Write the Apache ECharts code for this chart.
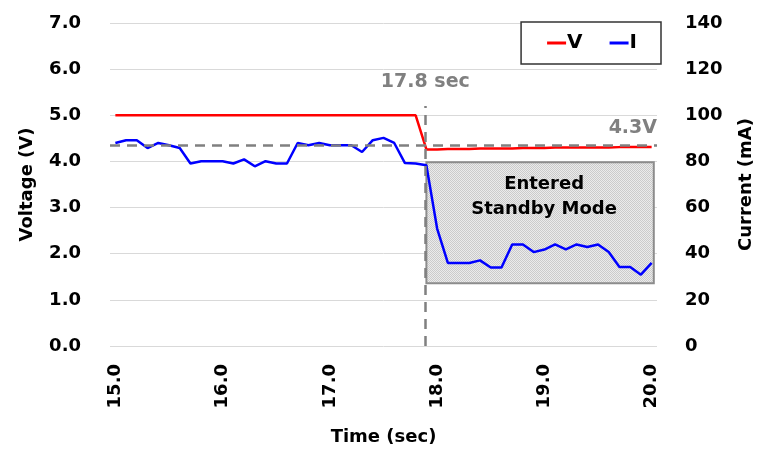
<!DOCTYPE html>
<html>
<head>
<meta charset="utf-8">
<script src="https://cdn.jsdelivr.net/npm/echarts@6/dist/echarts.min.js"></script>
<style>html,body{margin:0;padding:0;background:#fff}#c{width:760px;height:450px}</style>
</head>
<body>
<div id="c"></div>
<script>
// ---- data ----
const times = ['15.0','15.1','15.2','15.3','15.4','15.5','15.6','15.7','15.8','15.9',
  '16.0','16.1','16.2','16.3','16.4','16.5','16.6','16.7','16.8','16.9',
  '17.0','17.1','17.2','17.3','17.4','17.5','17.6','17.7','17.8','17.9',
  '18.0','18.1','18.2','18.3','18.4','18.5','18.6','18.7','18.8','18.9',
  '19.0','19.1','19.2','19.3','19.4','19.5','19.6','19.7','19.8','19.9','20.0'];
const voltage = [5.0,5.0,5.0,5.0,5.0,5.0,5.0,5.0,5.0,5.0,
  5.0,5.0,5.0,5.0,5.0,5.0,5.0,5.0,5.0,5.0,
  5.0,5.0,5.0,5.0,5.0,5.0,5.0,5.0,5.0,4.26,
  4.26,4.27,4.27,4.27,4.28,4.28,4.28,4.28,4.29,4.29,
  4.29,4.30,4.30,4.30,4.30,4.30,4.30,4.31,4.31,4.31,4.31];
const current = [88.0,89.2,89.2,85.8,88.0,87.0,85.8,79.1,80.1,80.1,
  80.1,79.1,80.9,77.9,80.1,79.1,79.1,88.0,87.0,88.0,
  87.0,87.0,87.0,84.1,89.2,90.2,88.0,79.3,79.1,78.3,
  50.9,36.0,36.0,36.0,37.1,34.0,34.0,44.0,44.0,40.7,
  41.8,44.0,41.9,44.0,42.9,44.0,40.7,34.2,34.2,30.9,36.0];
const vTicks = {min:0, max:7, interval:1};
const iTicks = {min:0, max:140, interval:20};
const standbyTime = 17.89;      // vertical marker position
const standbyLabel = '17.8 sec';
const refVoltage = 4.35;        // horizontal dashed reference
const refLabel = '4.3V';
const boxX = [17.90, 20.02];
const boxV = [1.36, 3.98];

// ---- pattern fill for the standby box ----
const pc = document.createElement('canvas');
pc.width = 2; pc.height = 2;
const px = pc.getContext('2d');
px.fillStyle = '#ebebeb'; px.fillRect(0,0,2,2);
px.fillStyle = '#cbcbcb'; px.fillRect(0,0,1,1); px.fillRect(1,1,1,1);

const FONT = 'DejaVu Sans';
const chart = echarts.init(document.getElementById('c'), null, {renderer:'canvas'});
chart.setOption({
  animation: false,
  textStyle: {fontFamily: FONT},
  grid: {left: 110, right: 103, top: 23, bottom: 104, outerBoundsMode: 'none', containLabel: false},
  legend: {
    right: 99, top: 22,
    padding: [11, 24, 11, 26],
    itemGap: 27, itemWidth: 19, itemHeight: 3,
    icon: 'rect',
    borderColor: '#333', borderWidth: 1.5, backgroundColor: '#fff',
    textStyle: {fontFamily: FONT, fontWeight: 'bold', fontSize: 20, color: '#000', padding: [0,0,0,-4]},
    data: ['V', 'I']
  },
  xAxis: [{
    type: 'category', data: times, boundaryGap: true,
    name: 'Time (sec)', nameLocation: 'middle', nameGap: 82,
    nameTextStyle: {fontFamily: FONT, fontWeight: 'bold', fontSize: 18, color: '#000'},
    axisLine: {show: false}, axisTick: {show: false},
    axisLabel: {interval: 9, rotate: 90, margin: 18, padding: [6, 0, 0, 0], fontFamily: FONT, fontWeight: 'bold', fontSize: 18, color: '#000'},
    splitLine: {show: false}
  }, {
    type: 'value', show: false, min: 14.95, max: 20.05
  }],
  yAxis: [{
    type: 'value', min: vTicks.min, max: vTicks.max, interval: vTicks.interval,
    name: 'Voltage (V)', nameLocation: 'middle', nameGap: 74,
    nameTextStyle: {fontFamily: FONT, fontWeight: 'bold', fontSize: 18, color: '#000'},
    axisLine: {show: false}, axisTick: {show: false},
    axisLabel: {margin: 29, fontFamily: FONT, fontWeight: 'bold', fontSize: 18, color: '#000', formatter: v => v.toFixed(1)},
    splitLine: {lineStyle: {color: '#d9d9d9', width: 1}}
  }, {
    type: 'value', min: iTicks.min, max: iTicks.max, interval: iTicks.interval,
    name: 'Current (mA)', nameLocation: 'middle', nameGap: 80,
    nameTextStyle: {fontFamily: FONT, fontWeight: 'bold', fontSize: 18, color: '#000'},
    axisLine: {show: false}, axisTick: {show: false},
    axisLabel: {margin: 28, fontFamily: FONT, fontWeight: 'bold', fontSize: 18, color: '#000'},
    splitLine: {show: false}
  }],
  series: [{
    name: 'annot', type: 'line', xAxisIndex: 1, yAxisIndex: 0, data: [], z: 1,
    silent: true,
    markArea: {
      silent: true,
      itemStyle: {color: {image: pc, repeat: 'repeat'}, borderColor: '#8c8c8c', borderWidth: 2},
      label: {show: true, position: 'insideTop', distance: 10, offset: [4, 0],
        formatter: 'Entered\nStandby Mode', fontFamily: FONT, fontWeight: 'bold', fontSize: 18, lineHeight: 25, color: '#000'},
      data: [[{coord: [boxX[0], boxV[1]]}, {coord: [boxX[1], boxV[0]]}]]
    }
  }, {
    name: 'I', type: 'line', xAxisIndex: 0, yAxisIndex: 1, data: current,
    showSymbol: false, symbol: 'none', z: 3,
    itemStyle: {color: '#0000ff'}, lineStyle: {color: '#0000ff', width: 2.5}
  }, {
    name: 'V', type: 'line', xAxisIndex: 0, yAxisIndex: 0, data: voltage,
    showSymbol: false, symbol: 'none', z: 4,
    itemStyle: {color: '#ff0000'}, lineStyle: {color: '#ff0000', width: 2.5}
  }, {
    name: 'marks', type: 'line', xAxisIndex: 1, yAxisIndex: 0, data: [], z: 5,
    silent: true,
    markLine: {
      silent: true, symbol: ['none', 'none'],
      lineStyle: {color: '#808080', width: 2.5, type: [10, 7]},
      data: [
        [{coord: [standbyTime, 0]}, {coord: [standbyTime, 5.2],
          label: {show: true, position: 'end', distance: 14, formatter: standbyLabel,
            fontFamily: FONT, fontWeight: 'bold', fontSize: 19, color: '#808080'}}],
        {yAxis: refVoltage, label: {show: true, position: 'insideEndTop', distance: [0, 8], formatter: refLabel,
            fontFamily: FONT, fontWeight: 'bold', fontSize: 19, color: '#808080'}}
      ]
    }
  }]
});
</script>
</body>
</html>
